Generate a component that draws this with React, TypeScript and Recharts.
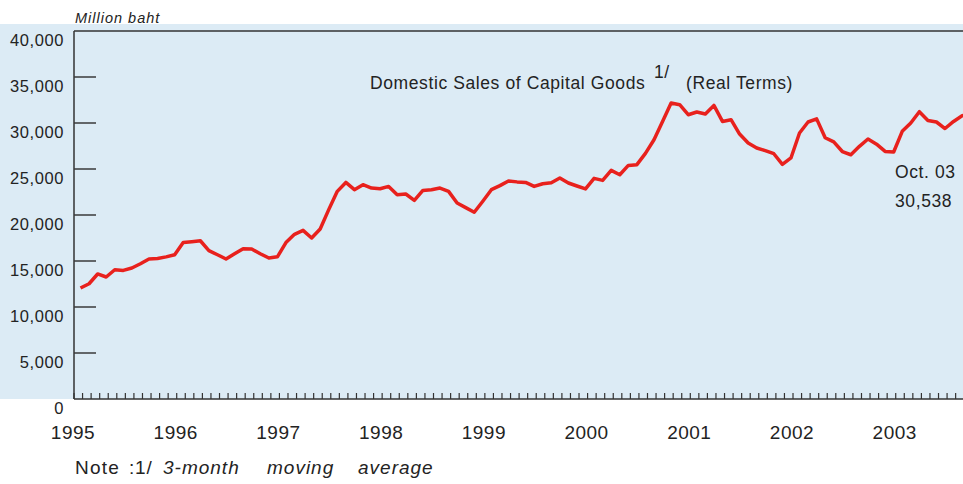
import React from 'react';
import { LineChart, Line, XAxis, YAxis, ReferenceLine } from 'recharts';

// Domestic sales of capital goods, real terms, million baht (3-month moving average)
const years = ['1995', '1996', '1997', '1998', '1999', '2000', '2001', '2002', '2003'];
const sales1995 = [12060, 12530, 13590, 13260, 14050, 13980, 14240, 14700, 15220, 15280, 15450, 15680];
const sales1996 = [17020, 17100, 17200, 16120, 15680, 15220, 15790, 16340, 16300, 15790, 15330, 15450];
const sales1997 = [17000, 17900, 18330, 17500, 18480, 20580, 22570, 23540, 22750, 23290, 22930, 22860];
const sales1998 = [23110, 22210, 22280, 21590, 22670, 22750, 22930, 22570, 21300, 20800, 20300, 21500];
const sales1999 = [22750, 23190, 23700, 23600, 23540, 23110, 23400, 23500, 24020, 23480, 23150, 22830];
const sales2000 = [23980, 23760, 24850, 24380, 25390, 25470, 26700, 28180, 30170, 32170, 31990, 30900];
const sales2001 = [31200, 30980, 31910, 30170, 30360, 28800, 27830, 27280, 27000, 26660, 25500, 26200];
const sales2002 = [28910, 30110, 30450, 28400, 27950, 26900, 26550, 27460, 28260, 27700, 26910, 26850];
const sales2003 = [29090, 30000, 31230, 30280, 30110, 29400, 30170, 30800, 31000, 30538];

const valueTicks = [0, 5000, 10000, 15000, 20000, 25000, 30000, 35000, 40000];
const lastMonth = 'Oct. 03';
const lastValue = '30,538';

const salesByYear = [sales1995, sales1996, sales1997, sales1998, sales1999, sales2000, sales2001, sales2002, sales2003];

// each point sits a bit into its month
const MONTH_OFFSET = 0.76;
const data = salesByYear.flat().map((v, i) => ({ t: i + MONTH_OFFSET, value: v }));
const monthTicks = Array.from({ length: 104 }, (_, i) => i);

const FONT = '"Liberation Sans", Arial, Helvetica, sans-serif';
const INK = '#232323';

const MonthTick = ({ x, y, payload }: any) => {
  const m = payload.value as number;
  return (
    <g>
      <line x1={x} x2={x} y1={y} y2={y - 6} stroke="#333" strokeWidth={1.2} />
      {m % 12 === 0 && (
        <text x={x - 1} y={y + 40} textAnchor="middle" fontSize={19} letterSpacing={0.5} fill={INK} fontFamily={FONT}>
          {years[m / 12]}
        </text>
      )}
    </g>
  );
};

const ValueTick = ({ x, y, payload }: any) => {
  const v = payload.value as number;
  return (
    <g>
      {v > 0 && v < 40000 && <line x1={x} x2={x + 22} y1={y} y2={y} stroke="#3a3a3a" strokeWidth={1.5} />}
      <text x={x - 10} y={y + 14.5} textAnchor="end" fontSize={16.5} letterSpacing={0.6} fill={INK} fontFamily={FONT}>
        {v.toLocaleString('en-US')}
      </text>
    </g>
  );
};

export default function App() {
  return (
    <div
      style={{
        position: 'relative',
        width: 963,
        height: 484,
        overflow: 'hidden',
        background: 'linear-gradient(to bottom, #ffffff 0px, #ffffff 24px, #dcebf5 24px, #dcebf5 399px, #ffffff 399px)',
      }}
    >
      <style>{'body{margin:0}'}</style>
      <LineChart width={963} height={484} data={data} margin={{ top: 31, right: 0, bottom: 0, left: 0 }}>
        <XAxis
          type="number"
          dataKey="t"
          domain={[0, 103.86]}
          allowDataOverflow
          ticks={monthTicks}
          interval={0}
          tickSize={0}
          tickMargin={0}
          tickLine={false}
          height={85}
          axisLine={{ stroke: '#333', strokeWidth: 1.5 }}
          tick={<MonthTick />}
        />
        <YAxis
          type="number"
          domain={[0, 40000]}
          ticks={valueTicks}
          interval={0}
          width={74}
          tickSize={0}
          tickMargin={0}
          tickLine={false}
          axisLine={{ stroke: '#333', strokeWidth: 1.5 }}
          tick={<ValueTick />}
        />
        <ReferenceLine y={40000} stroke="#333" strokeWidth={1.5} />
        <Line
          type="linear"
          dataKey="value"
          stroke="#e8211d"
          strokeWidth={3.5}
          strokeLinejoin="round"
          dot={false}
          isAnimationActive={false}
        />
      </LineChart>
      <svg
        width={963}
        height={484}
        style={{ position: 'absolute', left: 0, top: 0, pointerEvents: 'none' }}
        fontFamily={FONT}
        fill={INK}
      >
        <text x={75} y={23} fontSize={14.5} fontStyle="italic" letterSpacing={1}>Million baht</text>
        <text x={370} y={89} fontSize={17.5} letterSpacing={0.6}>Domestic Sales of Capital Goods</text>
        <text x={654} y={78} fontSize={17.5} letterSpacing={0.6}>1/</text>
        <text x={686} y={89} fontSize={17.5} letterSpacing={0.6}>(Real Terms)</text>
        <text x={895} y={178} fontSize={17.5} letterSpacing={0.6}>{lastMonth}</text>
        <text x={895} y={207} fontSize={17.5} letterSpacing={0.6}>{lastValue}</text>
        <text x={75} y={474} fontSize={19} letterSpacing={1.2}>Note</text>
        <text x={129} y={474} fontSize={19} letterSpacing={0.8}>:1/</text>
        <text x={163} y={474} fontSize={19} fontStyle="italic" letterSpacing={1}>3-month</text>
        <text x={267} y={474} fontSize={19} fontStyle="italic" letterSpacing={1}>moving</text>
        <text x={358} y={474} fontSize={19} fontStyle="italic" letterSpacing={1}>average</text>
      </svg>
    </div>
  );
}
